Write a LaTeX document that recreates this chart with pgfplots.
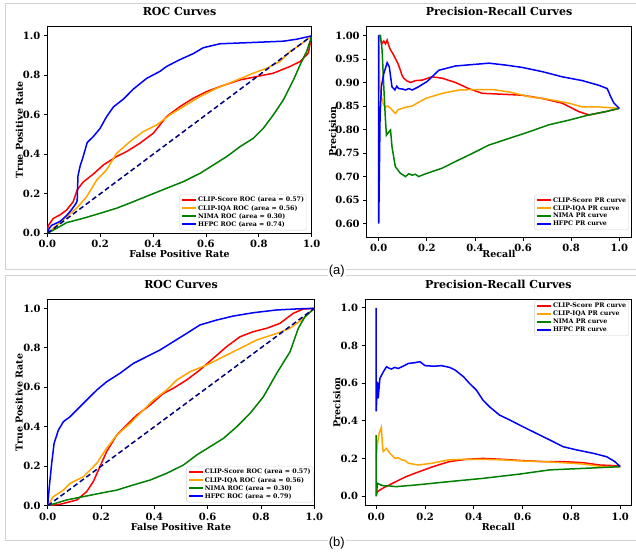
\documentclass[border=0pt]{standalone}
\usepackage{fontspec}
\setmainfont{DejaVu Serif}
\newfontfamily\labfont{Liberation Sans}
\usepackage{pgfplots}
\pgfplotsset{compat=1.18}
\definecolor{mplorange}{RGB}{255,165,0}
\definecolor{mplgreen}{RGB}{0,128,0}
\definecolor{mplred}{RGB}{255,0,0}
\definecolor{mplblue}{RGB}{0,0,255}
\definecolor{mplnavy}{RGB}{0,0,128}
\definecolor{frameg}{RGB}{210,210,210}
\pgfplotsset{
  base/.style={
    scale only axis, anchor=south west,
    axis line style={black, line width=0.8pt},
    tick align=outside, xtick pos=bottom, ytick pos=left,
    major tick length=3.5pt, tick style={black, line width=0.8pt},
    scaled ticks=false,
    /pgf/number format/assume math mode=true,
    tick label style={font=\bfseries\fontsize{10}{12}\selectfont,
      /pgf/number format/fixed, /pgf/number format/fixed zerofill,
      /pgf/number format/precision=1},
    title style={font=\bfseries\fontsize{11}{13}\selectfont, at={(0.5,1)}, anchor=south, yshift=1pt},
    label style={font=\bfseries\fontsize{9.5}{11}\selectfont},
    legend cell align=left,
    legend image code/.code={\draw[##1, line width=2pt, sharp corners] (0pt,0.3pt) -- (14pt,0.3pt);},
    legend style={font=\bfseries\fontsize{6.3}{6.5}\selectfont, draw=frameg, rounded corners=2pt, inner sep=1.5pt, row sep=0pt, nodes={inner sep=0.9pt}},
    every axis plot/.append style={line width=1.5pt},
  }
}
\begin{document}
\begin{tikzpicture}
\useasboundingbox (0,0) rectangle (636pt,552pt);
\fill[white] (0,0) rectangle (636pt,552pt);
% frames
\draw[frameg, line width=1pt] (640pt,548.7pt) -- (5.5pt,548.7pt) -- (5.5pt,283pt) -- (640pt,283pt);
\draw[frameg, line width=1pt] (640pt,276.7pt) -- (5.5pt,276.7pt) -- (5.5pt,11.3pt) -- (640pt,11.3pt);
\node[fill=white, inner sep=1pt, font=\labfont\fontsize{13}{15}\selectfont] at (336.7pt,281.3pt) {(a)};
\node[fill=white, inner sep=1pt, font=\labfont\fontsize{13}{15}\selectfont] at (336.7pt,9.3pt) {(b)};

% ---------- A1: ROC (a)
\begin{axis}[base, at={(47.3pt,318.7pt)}, width=264.4pt, height=207.3pt,
  xmin=0, xmax=1, ymin=0, ymax=1.05,
  xtick={0,0.2,...,1.0}, ytick={0,0.2,...,1.0},
  title={ROC Curves}, xlabel={False Positive Rate}, ylabel={True Positive Rate},
  xlabel style={at={(axis description cs:0.5,-0.0999)}, anchor=center},
  ylabel style={at={(axis description cs:-0.1059,0.5)}, anchor=center},
  legend style={at={(axis description cs:1,0)}, anchor=south east, xshift=-5pt, yshift=3pt}]
\addplot[mplred] coordinates {(0,0)(0,0.017)(0.004,0.04)(0.023,0.076)(0.048,0.093)(0.073,0.118)(0.098,0.16)(0.113,0.22)(0.136,0.26)(0.174,0.30)(0.212,0.346)(0.262,0.389)(0.3,0.414)(0.35,0.456)(0.401,0.507)(0.451,0.591)(0.502,0.642)(0.552,0.684)(0.603,0.718)(0.653,0.743)(0.729,0.777)(0.792,0.794)(0.855,0.811)(0.918,0.845)(0.956,0.87)(0.987,0.912)(1,1)};
\addlegendentry{CLIP-Score ROC (area = 0.57)}
\addplot[mplorange] coordinates {(0,0)(0.035,0.04)(0.073,0.085)(0.111,0.127)(0.149,0.186)(0.187,0.27)(0.224,0.321)(0.262,0.405)(0.313,0.465)(0.363,0.515)(0.414,0.549)(0.464,0.6)(0.515,0.642)(0.578,0.693)(0.641,0.735)(0.704,0.769)(0.779,0.811)(0.83,0.836)(0.88,0.87)(0.918,0.921)(0.956,0.954)(1,1)};
\addlegendentry{CLIP-IQA ROC (area = 0.56)}
\addplot[mplgreen] coordinates {(0,0)(0.035,0.025)(0.073,0.054)(0.136,0.076)(0.199,0.101)(0.262,0.127)(0.325,0.16)(0.388,0.194)(0.451,0.228)(0.515,0.262)(0.578,0.304)(0.628,0.346)(0.679,0.389)(0.729,0.439)(0.779,0.481)(0.817,0.532)(0.855,0.6)(0.893,0.676)(0.931,0.777)(0.956,0.853)(0.981,0.921)(1,1)};
\addlegendentry{NIMA ROC (area = 0.30)}
\addplot[mplblue] coordinates {(0,0)(0.005,0.02)(0.016,0.04)(0.048,0.06)(0.073,0.09)(0.092,0.12)(0.108,0.15)(0.113,0.165)(0.116,0.29)(0.124,0.34)(0.136,0.39)(0.151,0.46)(0.174,0.49)(0.199,0.53)(0.224,0.59)(0.25,0.64)(0.288,0.68)(0.325,0.73)(0.376,0.785)(0.426,0.82)(0.451,0.845)(0.502,0.88)(0.552,0.91)(0.59,0.94)(0.653,0.96)(0.767,0.966)(0.893,0.973)(0.943,0.983)(1,1)};
\addlegendentry{HFPC ROC (area = 0.74)}
\addplot[mplnavy, dash pattern=on 5pt off 3pt, forget plot] coordinates {(0,0)(1,1)};
\end{axis}

% ---------- A2: PR (a)
\begin{axis}[base, at={(366.7pt,314.7pt)}, width=264.6pt, height=211.3pt,
  xmin=-0.05, xmax=1.05, ymin=0.571, ymax=1.02,
  xtick={0,0.2,...,1.0}, ytick={0.60,0.65,...,1.001},
  yticklabel style={/pgf/number format/precision=2},
  title={Precision-Recall Curves}, xlabel={Recall}, ylabel={Precision},
  xlabel style={at={(axis description cs:0.5,-0.079)}, anchor=center},
  ylabel style={at={(axis description cs:-0.1285,0.5)}, anchor=center},
  legend style={at={(axis description cs:1,0)}, anchor=south east, xshift=-2.6pt, yshift=7.3pt}]
\addplot[mplred] coordinates {(0,1.0)(0.007,0.99)(0.014,0.983)(0.021,0.988)(0.028,0.982)(0.035,0.99)(0.042,0.978)(0.049,0.969)(0.058,0.962)(0.069,0.951)(0.08,0.94)(0.09,0.926)(0.097,0.915)(0.104,0.909)(0.118,0.903)(0.132,0.9)(0.153,0.904)(0.18,0.905)(0.222,0.912)(0.264,0.909)(0.319,0.9)(0.374,0.887)(0.43,0.877)(0.513,0.875)(0.596,0.873)(0.68,0.866)(0.763,0.856)(0.832,0.838)(0.874,0.831)(0.943,0.838)(1,0.845)};
\addlegendentry{CLIP-Score PR curve}
\addplot[mplorange] coordinates {(0,1.0)(0.002,0.955)(0.005,0.887)(0.014,0.863)(0.021,0.852)(0.028,0.848)(0.038,0.85)(0.049,0.845)(0.058,0.84)(0.069,0.834)(0.08,0.842)(0.097,0.845)(0.118,0.848)(0.139,0.85)(0.194,0.866)(0.264,0.877)(0.333,0.884)(0.402,0.885)(0.472,0.885)(0.541,0.88)(0.624,0.87)(0.707,0.864)(0.791,0.856)(0.846,0.848)(0.915,0.848)(1,0.845)};
\addlegendentry{CLIP-IQA PR curve}
\addplot[mplgreen] coordinates {(0,1.0)(0.007,1.0)(0.014,0.969)(0.021,0.891)(0.028,0.82)(0.032,0.788)(0.042,0.795)(0.049,0.799)(0.055,0.764)(0.069,0.721)(0.09,0.707)(0.1,0.704)(0.111,0.7)(0.125,0.706)(0.139,0.703)(0.152,0.705)(0.166,0.7)(0.18,0.703)(0.201,0.707)(0.264,0.718)(0.319,0.732)(0.388,0.749)(0.458,0.767)(0.541,0.781)(0.624,0.795)(0.707,0.81)(0.791,0.82)(0.874,0.831)(0.943,0.838)(1,0.845)};
\addlegendentry{NIMA PR curve}
\addplot[mplblue] coordinates {(0,1.0)(0,0.6)(0.0055,0.827)(0.011,0.891)(0.021,0.919)(0.035,0.942)(0.044,0.933)(0.055,0.891)(0.067,0.884)(0.075,0.892)(0.083,0.887)(0.1,0.886)(0.111,0.884)(0.125,0.887)(0.139,0.884)(0.166,0.891)(0.201,0.902)(0.25,0.926)(0.319,0.935)(0.388,0.938)(0.458,0.941)(0.527,0.937)(0.596,0.932)(0.68,0.923)(0.763,0.912)(0.846,0.904)(0.915,0.894)(0.95,0.887)(0.964,0.87)(0.978,0.856)(0.992,0.849)(1,0.845)};
\addlegendentry{HFPC PR curve}
\end{axis}

% ---------- B1: ROC (b)
\begin{axis}[base, at={(47.7pt,46.3pt)}, width=266.6pt, height=206.4pt,
  xmin=0, xmax=1, ymin=0, ymax=1.046,
  xtick={0,0.2,...,1.0}, ytick={0,0.2,...,1.0},
  title={ROC Curves}, xlabel={False Positive Rate}, ylabel={True Positive Rate},
  xlabel style={at={(axis description cs:0.5,-0.1017)}, anchor=center},
  ylabel style={at={(axis description cs:-0.1077,0.5)}, anchor=center},
  legend style={at={(axis description cs:1,0)}, anchor=south east, xshift=-1pt, yshift=3.4pt}]
\addplot[mplred] coordinates {(0,0)(0.046,0.007)(0.109,0.029)(0.146,0.071)(0.171,0.122)(0.196,0.198)(0.221,0.274)(0.259,0.358)(0.296,0.409)(0.334,0.459)(0.384,0.51)(0.434,0.569)(0.471,0.595)(0.521,0.637)(0.571,0.688)(0.621,0.747)(0.671,0.806)(0.721,0.856)(0.771,0.882)(0.821,0.899)(0.871,0.924)(0.921,0.975)(0.959,0.997)(1,1)};
\addlegendentry{CLIP-Score ROC (area = 0.57)}
\addplot[mplorange] coordinates {(0,0)(0.021,0.046)(0.059,0.079)(0.084,0.113)(0.134,0.147)(0.184,0.215)(0.221,0.291)(0.259,0.358)(0.309,0.417)(0.346,0.468)(0.396,0.535)(0.446,0.586)(0.484,0.637)(0.534,0.679)(0.596,0.713)(0.659,0.755)(0.721,0.797)(0.784,0.84)(0.859,0.873)(0.909,0.899)(0.959,0.949)(1,1)};
\addlegendentry{CLIP-IQA ROC (area = 0.56)}
\addplot[mplgreen] coordinates {(0,0)(0.071,0.029)(0.134,0.046)(0.196,0.063)(0.259,0.079)(0.321,0.105)(0.384,0.13)(0.446,0.164)(0.509,0.206)(0.559,0.257)(0.609,0.299)(0.659,0.341)(0.709,0.4)(0.759,0.468)(0.809,0.552)(0.859,0.671)(0.909,0.78)(0.94,0.899)(0.965,0.958)(1,1)};
\addlegendentry{NIMA ROC (area = 0.30)}
\addplot[mplblue] coordinates {(0,0)(0.006,0.096)(0.015,0.215)(0.024,0.316)(0.04,0.383)(0.059,0.426)(0.084,0.451)(0.109,0.485)(0.146,0.535)(0.184,0.586)(0.221,0.628)(0.271,0.671)(0.321,0.721)(0.371,0.755)(0.421,0.789)(0.471,0.831)(0.521,0.873)(0.571,0.916)(0.634,0.941)(0.696,0.961)(0.771,0.978)(0.859,0.992)(0.946,0.998)(1,1)};
\addlegendentry{HFPC ROC (area = 0.79)}
\addplot[mplnavy, dash pattern=on 5pt off 3pt, forget plot] coordinates {(0,0)(1,1)};
\end{axis}

% ---------- B2: PR (b)
\begin{axis}[base, at={(365pt,46.3pt)}, width=266.7pt, height=206.4pt,
  xmin=-0.046, xmax=1.047, ymin=-0.05, ymax=1.045,
  xtick={0,0.2,...,1.0}, ytick={0,0.2,...,1.0},
  title={Precision-Recall Curves}, xlabel={Recall}, ylabel={Precision},
  xlabel style={at={(axis description cs:0.5,-0.1017)}, anchor=center},
  ylabel style={at={(axis description cs:-0.1061,0.5)}, anchor=center},
  legend style={at={(axis description cs:1,1)}, anchor=north east, xshift=-3pt, yshift=-1.4pt}]
\addplot[mplred] coordinates {(0,0.007)(0.005,0.025)(0.026,0.042)(0.067,0.069)(0.122,0.104)(0.177,0.131)(0.232,0.157)(0.3,0.184)(0.368,0.196)(0.437,0.201)(0.519,0.196)(0.601,0.189)(0.684,0.184)(0.766,0.184)(0.848,0.178)(0.916,0.166)(1,0.161)};
\addlegendentry{CLIP-Score PR curve}
\addplot[mplorange] coordinates {(0,0.2)(0.005,0.28)(0.012,0.334)(0.021,0.366)(0.026,0.263)(0.029,0.237)(0.042,0.254)(0.056,0.228)(0.077,0.201)(0.09,0.205)(0.104,0.193)(0.118,0.19)(0.132,0.175)(0.173,0.166)(0.227,0.175)(0.296,0.193)(0.355,0.196)(0.437,0.196)(0.519,0.193)(0.601,0.187)(0.684,0.184)(0.766,0.178)(0.848,0.171)(0.93,0.157)(1,0.157)};
\addlegendentry{CLIP-IQA PR curve}
\addplot[mplgreen] coordinates {(0,0.325)(0,0.0)(0.005,0.069)(0.019,0.06)(0.033,0.055)(0.053,0.055)(0.081,0.051)(0.163,0.06)(0.3,0.078)(0.437,0.095)(0.589,0.118)(0.711,0.14)(0.848,0.148)(1,0.157)};
\addlegendentry{NIMA PR curve}
\addplot[mplblue] coordinates {(0,1.0)(0,0.45)(0.005,0.608)(0.008,0.52)(0.015,0.625)(0.029,0.66)(0.042,0.687)(0.052,0.68)(0.063,0.675)(0.075,0.684)(0.09,0.678)(0.11,0.69)(0.132,0.705)(0.155,0.708)(0.179,0.714)(0.2,0.693)(0.235,0.69)(0.268,0.693)(0.3,0.684)(0.323,0.67)(0.358,0.634)(0.382,0.599)(0.41,0.564)(0.437,0.511)(0.464,0.475)(0.505,0.431)(0.547,0.405)(0.601,0.369)(0.656,0.334)(0.711,0.299)(0.766,0.263)(0.821,0.246)(0.889,0.228)(0.944,0.21)(0.978,0.184)(1,0.157)};
\addlegendentry{HFPC PR curve}
\end{axis}
\end{tikzpicture}
\end{document}
